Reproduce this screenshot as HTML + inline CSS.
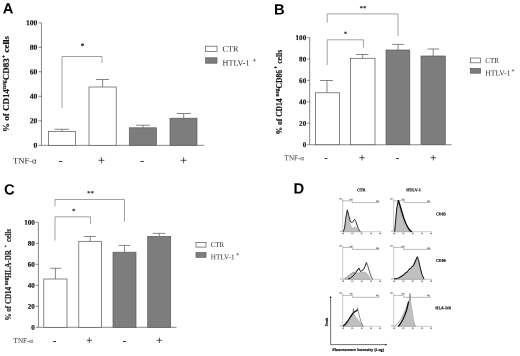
<!DOCTYPE html>
<html><head><meta charset="utf-8">
<style>
html,body{margin:0;padding:0;background:#fff;}
body{width:520px;height:356px;overflow:hidden;}
svg{display:block;filter:blur(0.4px);}
text{font-family:"Liberation Serif",serif;fill:#111;}
.pl{font-family:"Liberation Sans",sans-serif;font-weight:bold;font-size:14.8px;fill:#000;}
.tk{font-weight:bold;font-size:7.6px;text-anchor:end;stroke:#111;stroke-width:0.15px;}
.tk2{font-weight:bold;font-size:7.1px;text-anchor:end;stroke:#111;stroke-width:0.15px;}
.yl{font-weight:bold;stroke:#111;stroke-width:0.15px;}
.lg{font-size:8.1px;fill:#2a2a2a;}
.sp{stroke:#333;stroke-width:0.5;fill:none;}
.lg2{font-size:7px;fill:#2a2a2a;}
.xs{font-size:8.6px;fill:#2a2a2a;}
.xs2{font-size:7.1px;fill:#333;}
.pm{font-family:"Liberation Sans",sans-serif;font-size:9px;text-anchor:middle;fill:#222;}
.pm2{font-family:"Liberation Sans",sans-serif;font-size:8px;text-anchor:middle;fill:#222;}
.mn{stroke:#222;stroke-width:0.95;fill:none;}
.ps{stroke:#222;stroke-width:0.75;fill:none;}
.st{font-weight:bold;font-size:8px;text-anchor:middle;}
.st2{font-weight:bold;font-size:7px;text-anchor:middle;}
.ax{stroke:#555;stroke-width:0.7;fill:none;}
.bw{fill:#fff;stroke:#555;stroke-width:0.7;}
.bg{fill:#7d7d7d;stroke:#5a5a5a;stroke-width:0.7;}
.eb{stroke:#555;stroke-width:0.7;fill:none;}
.br{stroke:#555;stroke-width:0.55;fill:none;}
.d{font-weight:bold;font-size:4px;text-anchor:middle;fill:#111;stroke:#111;stroke-width:0.18px;}
.hax{stroke:#8a8a8a;stroke-width:0.45;fill:none;}
.gt{stroke:#666;stroke-width:0.45;fill:none;}
.hf{fill:#c0c0c0;stroke:#777;stroke-width:0.35;}
.hl{fill:none;stroke:#111;stroke-width:0.95;stroke-linejoin:round;}
</style></head><body>
<svg width="520" height="356" viewBox="0 0 520 356">
<rect x="-5" y="-5" width="530" height="366" fill="#fff"/>

<!-- ===== Panel A ===== -->
<g id="A">
<text class="pl" x="2.7" y="13.6" transform="rotate(0.03 2.7 13.6)">A</text>
<path class="ax" d="M41.45 22.8V145.35H204"/>
<path class="ax" d="M38.5 22.8H41.4M38.5 47.3H41.4M38.5 71.8H41.4M38.5 96.3H41.4M38.5 120.8H41.4M38.5 145.35H41.4"/>
<text class="tk" x="37.4" y="25.2" transform="rotate(0.03 37.4 25.2)">100</text>
<text class="tk" x="37.4" y="49.7" transform="rotate(0.03 37.4 49.7)">80</text>
<text class="tk" x="37.4" y="74.2" transform="rotate(0.03 37.4 74.2)">60</text>
<text class="tk" x="37.4" y="98.7" transform="rotate(0.03 37.4 98.7)">40</text>
<text class="tk" x="37.4" y="123.2" transform="rotate(0.03 37.4 123.2)">20</text>
<text class="tk" x="37.4" y="147.75" transform="rotate(0.03 37.4 147.75)">0</text>
<text class="yl" font-size="9" textLength="96" lengthAdjust="spacing" transform="translate(9.3,132) rotate(-90)">% of CD14<tspan font-size="5.8" dy="-3.2">neg</tspan><tspan dy="3.2">CD83</tspan><tspan font-size="6" dy="-3.8">+</tspan><tspan dy="3.8"> cells</tspan></text>
<rect class="bw" x="48.4" y="131.4" width="27.1" height="13.9"/>
<path class="eb" d="M62 131.4V129.3M54.5 129.3H69"/>
<rect class="bw" x="89" y="87" width="27.2" height="58.3"/>
<path class="eb" d="M102.6 87V79.5M96 79.5H109"/>
<rect class="bg" x="129.3" y="127.8" width="27.2" height="17.5"/>
<path class="eb" d="M143 127.8V125.2M136 125.2H150"/>
<rect class="bg" x="170" y="118.2" width="27" height="27.1"/>
<path class="eb" d="M183.7 118.2V113.5M176.8 113.5H190.8"/>
<path class="br" d="M62 108V56.5H102V63"/>
<text class="st" x="82.5" y="48.5" transform="rotate(0.03 82.5 48.5)">*</text>
<text class="xs" x="13" y="163.5" transform="rotate(0.03 13 163.5)">TNF-α</text>
<path class="mn" d="M59 161.5H62.2M140.6 161.5H143.8"/>
<path class="ps" d="M98.4 160.3H104.4M101.4 157.3V163.3M180.6 160.3H186.6M183.6 157.3V163.3"/>
<rect class="bw" x="205.6" y="46.2" width="11.4" height="5.4"/>
<rect class="bg" x="205.6" y="57.8" width="11.4" height="5.4"/>
<text class="lg" x="222.6" y="51.6" transform="rotate(0.03 222.6 51.6)">CTR</text>
<text class="lg" x="222.6" y="65.5" transform="rotate(0.03 222.6 65.5)">HTLV-1</text>
<path class="sp" d="M252.8 60.2H256.0M254.4 58.6V61.8"/>
</g>

<!-- ===== Panel B ===== -->
<g id="B">
<text class="pl" x="274" y="14.6" transform="rotate(0.03 274 14.6)">B</text>
<path class="ax" d="M309.7 37.6V144.75H451.5"/>
<path class="ax" d="M307.2 37.6H309.7M307.2 59H309.7M307.2 80.4H309.7M307.2 101.8H309.7M307.2 123.2H309.7M307.2 144.75H309.7"/>
<text class="tk2" x="306.2" y="40.1" transform="rotate(0.03 306.2 40.1)">100</text>
<text class="tk2" x="306.2" y="61.5" transform="rotate(0.03 306.2 61.5)">80</text>
<text class="tk2" x="306.2" y="82.9" transform="rotate(0.03 306.2 82.9)">60</text>
<text class="tk2" x="306.2" y="104.3" transform="rotate(0.03 306.2 104.3)">40</text>
<text class="tk2" x="306.2" y="125.7" transform="rotate(0.03 306.2 125.7)">20</text>
<text class="tk2" x="306.2" y="147.1" transform="rotate(0.03 306.2 147.1)">0</text>
<text class="yl" font-size="7.4" textLength="84.6" lengthAdjust="spacingAndGlyphs" transform="translate(281.5,134.5) rotate(-90)">% of CD14 <tspan font-size="5.2" dy="-2.6">neg</tspan><tspan dy="2.6">CD86</tspan><tspan font-size="5.2" dy="-3.4"> +</tspan><tspan dy="3.4"> cells</tspan></text>
<rect class="bw" x="315.4" y="92.8" width="24" height="51.9"/>
<path class="eb" d="M327 92.7V80.5M320 80.5H333"/>
<rect class="bw" x="350.6" y="58.3" width="24.4" height="86.4"/>
<path class="eb" d="M362.7 58.3V54.5M356 54.5H368.5"/>
<rect class="bg" x="386" y="50" width="23.8" height="94.6"/>
<path class="eb" d="M398 50V44.4M392 44.4H404"/>
<rect class="bg" x="421" y="56" width="24.3" height="88.6"/>
<path class="eb" d="M433.2 56V49M427.5 49H439"/>
<path class="br" d="M327.2 65V39.8H363.4V47.5"/>
<path class="br" d="M327.2 22.6V13.9H398V36"/>
<text class="st2" x="345.5" y="36" transform="rotate(0.03 345.5 36)">*</text>
<text class="st2" x="363" y="10.4" transform="rotate(0.03 363 10.4)">**</text>
<text class="xs2" x="284.6" y="160.3" transform="rotate(0.03 284.6 160.3)">TNF-α</text>
<path class="mn" d="M324.6 158.55H327.4M396.1 158.55H398.9"/>
<path class="ps" d="M359.3 157.7H364.7M362.0 155.0V160.4M430.6 157.7H436.0M433.3 155.0V160.4"/>
<rect class="bw" x="470.3" y="58" width="10.3" height="4.8"/>
<rect class="bg" x="470.3" y="68.4" width="10.3" height="4.8"/>
<text class="lg2" style="font-size:7.6px" transform="translate(485.3,62.9) scale(0.92,1) rotate(0.03)">CTR</text>
<text class="lg2" style="font-size:7.6px" transform="translate(485.3,75.4) rotate(0.03)">HTLV-1</text>
<path class="sp" d="M511.6 70.4H514.4M513.0 69.0V71.8"/>
</g>

<!-- ===== Panel C ===== -->
<g id="C">
<text class="pl" x="4.1" y="194.5" transform="rotate(0.03 4.1 194.5)">C</text>
<path class="ax" d="M38.4 222.3V327.3H176.5"/>
<path class="ax" d="M35.8 222.3H38.4M35.8 243.3H38.4M35.8 264.3H38.4M35.8 285.3H38.4M35.8 306.3H38.4M35.8 327.3H38.4"/>
<text class="tk2" x="34.8" y="224.8" transform="rotate(0.03 34.8 224.8)">100</text>
<text class="tk2" x="34.8" y="245.8" transform="rotate(0.03 34.8 245.8)">80</text>
<text class="tk2" x="34.8" y="266.8" transform="rotate(0.03 34.8 266.8)">60</text>
<text class="tk2" x="34.8" y="287.8" transform="rotate(0.03 34.8 287.8)">40</text>
<text class="tk2" x="34.8" y="308.8" transform="rotate(0.03 34.8 308.8)">20</text>
<text class="tk2" x="34.8" y="329.8" transform="rotate(0.03 34.8 329.8)">0</text>
<text class="yl" font-size="7.6" textLength="91.5" lengthAdjust="spacingAndGlyphs" transform="translate(10.9,320.5) rotate(-90)">% of CD14 <tspan font-size="5.2" dy="-2.6">neg</tspan><tspan dy="2.6">HLA-DR</tspan><tspan font-size="5.2" dy="-3.4" dx="1.6"> +</tspan><tspan dy="3.4" dx="1.2"> cells</tspan></text>
<rect class="bw" x="43.8" y="279" width="23.2" height="48.3"/>
<path class="eb" d="M55.4 279V268.3M50 268.3H61.3"/>
<rect class="bw" x="78.8" y="241.3" width="22.8" height="86"/>
<path class="eb" d="M90.2 241.3V236.5M84 236.5H95.8"/>
<rect class="bg" x="113" y="252.2" width="23" height="75.1"/>
<path class="eb" d="M124.5 252.2V245.4M118.7 245.4H130.2"/>
<rect class="bg" x="147.7" y="236.4" width="23" height="90.9"/>
<path class="eb" d="M159.2 236.4V233.4M153 233.4H165.2"/>
<path class="br" d="M55 240.5V216.8H90.5V224"/>
<path class="br" d="M55 206.5V199.5H124.5V221.5"/>
<text class="st2" x="73.7" y="213.2" transform="rotate(0.03 73.7 213.2)">*</text>
<text class="st2" x="90.5" y="195.5" transform="rotate(0.03 90.5 195.5)">**</text>
<text class="xs2" x="13.6" y="342.9" transform="rotate(0.03 13.6 342.9)">TNF-α</text>
<path class="mn" d="M53.1 341.5H55.9M123.1 341.5H125.9"/>
<path class="ps" d="M86.6 340.3H92.0M89.3 337.6V343.0M156.7 340.3H162.1M159.4 337.6V343.0"/>
<rect class="bw" x="196" y="242.4" width="10" height="4.7"/>
<rect class="bg" x="196" y="252.6" width="10" height="4.7"/>
<text class="lg2" style="font-size:7.2px" transform="translate(210.8,247.1) scale(0.95,1) rotate(0.03)">CTR</text>
<text class="lg2" style="font-size:7.2px" transform="translate(210.8,259.3) rotate(0.03)">HTLV-1</text>
<path class="sp" d="M236.3 254.2H239.1M237.7 252.8V255.6"/>
</g>

<!-- ===== Panel D ===== -->
<g id="D">
<text class="pl" x="293.4" y="193.6" transform="rotate(0.03 293.4 193.6)">D</text>
<text class="d" x="361.2" y="191.2" textLength="8.6" lengthAdjust="spacingAndGlyphs" transform="rotate(0.03 361.2 191.2)">CTR</text>
<text class="d" x="413.6" y="191.3" textLength="14.7" lengthAdjust="spacingAndGlyphs" transform="rotate(0.03 413.6 191.3)">HTLV-1</text>
<text class="d" x="440.8" y="215.3" textLength="9.6" lengthAdjust="spacingAndGlyphs" transform="rotate(0.03 440.8 215.3)">CD83</text>
<text class="d" x="440.8" y="261.8" textLength="9.6" lengthAdjust="spacingAndGlyphs" transform="rotate(0.03 440.8 261.8)">CD86</text>
<text class="d" x="443.2" y="309.3" textLength="15.7" lengthAdjust="spacingAndGlyphs" transform="rotate(0.03 443.2 309.3)">HLA-DR</text>

<!-- H1 CTR CD83 -->
<path class="hax" d="M342.65 199V231.7H381.3"/>
<path class="gt" d="M342.65 200.8H352.3V202.6H379.4"/>
<path class="hf" d="M343.2 231.7L344.5 229 345.8 219 347.3 211 348.6 217 350 224 351.6 227.5 353.5 228 355.4 226.7 357 228.5 358.5 230.5 360.3 231.7Z"/>
<path class="hl" style="stroke-width:0.85" d="M343.2 231.7L344.6 228 345.9 217 347.3 209.8 348.7 215 350.2 221 351.7 223 353 221.5 354.5 219.3 355.8 221.5 357 225 358.3 228.5 359.5 230.8 360.5 231.7"/>
<!-- H2 HTLV CD83 -->
<path class="hax" d="M393.65 199V231.7H432"/>
<path class="gt" d="M393.65 200.8H404.3V202.6H431"/>
<path class="hf" d="M394.6 231.7L395.5 224 396.8 210 398.3 201.5 399.5 206 401 213 403 220 405 225 407.5 229 410 231.2 411.5 231.7Z"/>
<path class="hl" d="M394.6 231.7L395.5 222 396.8 208 398.3 200.2"/>
<path class="hl" style="stroke-width:1.5" d="M398.3 200.2L400 205.5 401.8 211.8 403.8 218.3 406 224 408.5 228.5 410.5 230.9 412 231.7"/>
<!-- H3 CTR CD86 -->
<path class="hax" d="M342.65 246V279.3H381.3"/>
<path class="gt" d="M342.65 247.4H352.3V249.4H379.4"/>
<path class="hf" d="M345 279.3L348 277 351 274.5 353 272.8 356 273.2 359 272.8 362 272.2 365 271.9 367 273.5 369 276.5 370.7 279.3Z"/>
<path class="hl" style="stroke-width:0.5;stroke:#444" d="M343.5 279.3L347 277 350.5 274 353.4 272.2 355 272.6 357 270.2 358.9 268"/>
<path class="hl" style="stroke-width:0.95" d="M348 279L350.2 278.3 353 276 356 272.5 358.9 268 360.5 271.5 362 270.5 363.6 269.6 365 266.5 366.4 262.5"/>
<path class="hl" style="stroke-width:0.7" d="M366.4 262.5L367.6 265.5 369 270 370.5 275 372 278.5 373 279.3"/>
<!-- H4 HTLV CD86 -->
<path class="hax" d="M393.65 246V279.3H432"/>
<path class="gt" d="M393.65 247.4H403.6V249.4H431"/>
<path class="hf" d="M394 279.3L398.5 278.5 403 276.5 407.8 273 411 270 414 266.5 416 261.5 417.6 258.5 419 263 420.5 269 422 274.5 424 279.3Z"/>
<path class="hl" d="M394 278.9L398.5 278.1 403 275.6 406 273.1 409 269.8 412 267.3 414 264.6 416 259.9 417.4 256.7 418.8 261 420.3 268 422 274.5 424 279.1"/>
<path class="hl" style="stroke-width:0.7" d="M398.5 277.8L403 274.8 406 272 407.5 272.4 409 268.8 410.5 269 412 266 413 266.5 414 263.8 416 259.3 417.4 256.7"/>
<!-- H5 CTR HLA-DR -->
<path class="hax" d="M342.65 293.2V326.3H381.3"/>
<path class="gt" d="M342.65 295.4H352.3V297.3H379.4"/>
<path class="hf" d="M344 326.3L346.5 323.5 349 320 351.5 316.2 353.4 313.8 355.5 316.5 357.5 319 359.5 321.8 361.3 324 363.6 326.3Z"/>
<path class="hl" style="stroke-width:1.3" d="M343 326.3L345.3 324.3 347.8 321 350.3 317 352.8 313.5 355 311.6 357.5 310"/>
<path class="hl" style="stroke-width:0.5;stroke:#333" d="M353 313.2L353.4 308.6 353.9 312.6M357 310.3L357.5 307.8 358 310.5"/>
<path class="hl" style="stroke-width:0.55;stroke:#333" d="M357.5 309.5L358.7 313.5 359.8 317.5 360.9 321.3 362 324.6 363 326.3"/>
<!-- H6 HTLV HLA-DR -->
<path class="hax" d="M393.65 293.2V326.3H432"/>
<path class="gt" d="M393.65 295.4H403.6V297.3H431"/>
<path class="hf" d="M398.3 326.3L400.5 323.5 402.8 319.5 405 314.5 406.8 309.5 408.6 301.6 410 299.7 411 304 412 310 413 316.5 414.2 322.5 415.6 326.3Z"/>
<path class="hl" style="stroke-width:0.5;stroke:#444" d="M394.5 326.3L397.5 323.8 400.5 319.8 403.5 314.3 406 308.5 408.3 302.8 410 299.7"/>
<path class="hl" style="stroke-width:1.3" d="M398.3 326.3L400.5 323.5 402.8 319.5 405 314.5 406.8 309.5 408.6 301.6"/>
<path d="M410 293.5V300" stroke="#333" stroke-width="0.8" fill="none"/>
<!-- tiny tick labels / gate labels -->
<g font-size="2.3" fill="#777" text-anchor="middle" font-weight="bold">
<text x="342.9" y="234.3" transform="rotate(0.03 342.9 234.3)">10</text>
<text x="352.2" y="234.3" transform="rotate(0.03 352.2 234.3)">10</text>
<text x="361.6" y="234.3" transform="rotate(0.03 361.6 234.3)">10</text>
<text x="370.8" y="234.3" transform="rotate(0.03 370.8 234.3)">10</text>
<text x="380.1" y="234.3" transform="rotate(0.03 380.1 234.3)">10</text>
<text x="340.4" y="199.6" transform="rotate(0.03 340.4 199.6)">40</text>
<text x="341.0" y="232.1" transform="rotate(0.03 341.0 232.1)">0</text>
<text x="351.1" y="200.3" fill="#555" transform="rotate(0.03 351.1 200.3)">M1</text>
<text x="377.6" y="202.1" fill="#555" transform="rotate(0.03 377.6 202.1)">M2</text>
<text x="393.9" y="234.3" transform="rotate(0.03 393.9 234.3)">10</text>
<text x="403.2" y="234.3" transform="rotate(0.03 403.2 234.3)">10</text>
<text x="412.6" y="234.3" transform="rotate(0.03 412.6 234.3)">10</text>
<text x="421.8" y="234.3" transform="rotate(0.03 421.8 234.3)">10</text>
<text x="431.1" y="234.3" transform="rotate(0.03 431.1 234.3)">10</text>
<text x="391.4" y="199.6" transform="rotate(0.03 391.4 199.6)">40</text>
<text x="392.0" y="232.1" transform="rotate(0.03 392.0 232.1)">0</text>
<text x="403.1" y="200.3" fill="#555" transform="rotate(0.03 403.1 200.3)">M1</text>
<text x="428.6" y="202.1" fill="#555" transform="rotate(0.03 428.6 202.1)">M2</text>
<text x="342.9" y="281.9" transform="rotate(0.03 342.9 281.9)">10</text>
<text x="352.2" y="281.9" transform="rotate(0.03 352.2 281.9)">10</text>
<text x="361.6" y="281.9" transform="rotate(0.03 361.6 281.9)">10</text>
<text x="370.8" y="281.9" transform="rotate(0.03 370.8 281.9)">10</text>
<text x="380.1" y="281.9" transform="rotate(0.03 380.1 281.9)">10</text>
<text x="340.4" y="246.6" transform="rotate(0.03 340.4 246.6)">40</text>
<text x="341.0" y="279.7" transform="rotate(0.03 341.0 279.7)">0</text>
<text x="351.1" y="247.3" fill="#555" transform="rotate(0.03 351.1 247.3)">M1</text>
<text x="377.6" y="249.1" fill="#555" transform="rotate(0.03 377.6 249.1)">M2</text>
<text x="393.9" y="281.9" transform="rotate(0.03 393.9 281.9)">10</text>
<text x="403.2" y="281.9" transform="rotate(0.03 403.2 281.9)">10</text>
<text x="412.6" y="281.9" transform="rotate(0.03 412.6 281.9)">10</text>
<text x="421.8" y="281.9" transform="rotate(0.03 421.8 281.9)">10</text>
<text x="431.1" y="281.9" transform="rotate(0.03 431.1 281.9)">10</text>
<text x="391.4" y="246.6" transform="rotate(0.03 391.4 246.6)">40</text>
<text x="392.0" y="279.7" transform="rotate(0.03 392.0 279.7)">0</text>
<text x="403.1" y="247.3" fill="#555" transform="rotate(0.03 403.1 247.3)">M1</text>
<text x="428.6" y="249.1" fill="#555" transform="rotate(0.03 428.6 249.1)">M2</text>
<text x="342.9" y="328.9" transform="rotate(0.03 342.9 328.9)">10</text>
<text x="352.2" y="328.9" transform="rotate(0.03 352.2 328.9)">10</text>
<text x="361.6" y="328.9" transform="rotate(0.03 361.6 328.9)">10</text>
<text x="370.8" y="328.9" transform="rotate(0.03 370.8 328.9)">10</text>
<text x="380.1" y="328.9" transform="rotate(0.03 380.1 328.9)">10</text>
<text x="340.4" y="293.8" transform="rotate(0.03 340.4 293.8)">40</text>
<text x="341.0" y="326.7" transform="rotate(0.03 341.0 326.7)">0</text>
<text x="351.1" y="294.5" fill="#555" transform="rotate(0.03 351.1 294.5)">M1</text>
<text x="377.6" y="296.3" fill="#555" transform="rotate(0.03 377.6 296.3)">M2</text>
<text x="393.9" y="328.9" transform="rotate(0.03 393.9 328.9)">10</text>
<text x="403.2" y="328.9" transform="rotate(0.03 403.2 328.9)">10</text>
<text x="412.6" y="328.9" transform="rotate(0.03 412.6 328.9)">10</text>
<text x="421.8" y="328.9" transform="rotate(0.03 421.8 328.9)">10</text>
<text x="431.1" y="328.9" transform="rotate(0.03 431.1 328.9)">10</text>
<text x="391.4" y="293.8" transform="rotate(0.03 391.4 293.8)">40</text>
<text x="392.0" y="326.7" transform="rotate(0.03 392.0 326.7)">0</text>
<text x="403.1" y="294.5" fill="#555" transform="rotate(0.03 403.1 294.5)">M1</text>
<text x="428.6" y="296.3" fill="#555" transform="rotate(0.03 428.6 296.3)">M2</text>
</g>
<!-- big axis -->
<path d="M330.6 297V344.6H386" stroke="#111" stroke-width="0.6" fill="none"/>
<path d="M329.8 298L330.6 295.8 331.4 298Z M385.3 343.8L387.3 344.6 385.3 345.4Z" fill="#111"/>
<text class="d" style="font-size:3px" textLength="8.3" lengthAdjust="spacingAndGlyphs" transform="translate(328.1,322) rotate(-90)">Events</text>
<text class="d" x="358.2" y="351" textLength="52" lengthAdjust="spacingAndGlyphs" transform="rotate(0.03 358.2 351)">Fluorescence Intensity (Log)</text>
</g>
</svg>
</body></html>
